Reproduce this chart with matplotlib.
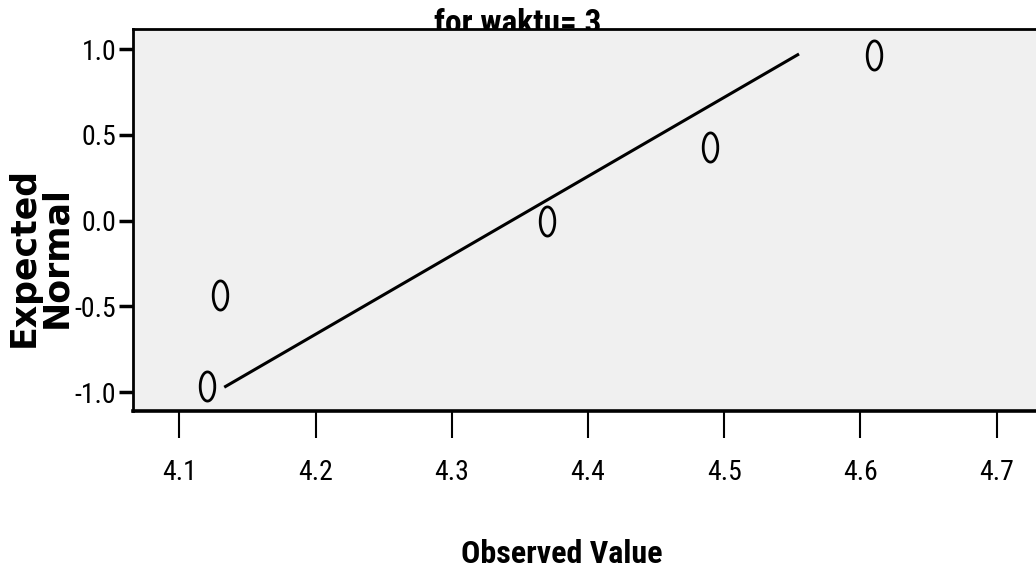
import numpy as np
import matplotlib
matplotlib.use("Agg")
import matplotlib.pyplot as plt
from matplotlib.path import Path

observed = [4.12, 4.13, 4.37, 4.49, 4.61]
expected = [-0.967, -0.431, 0.0, 0.431, 0.967]
xticks = [4.1, 4.2, 4.3, 4.4, 4.5, 4.6, 4.7]
yticks = [-1.0, -0.5, 0.0, 0.5, 1.0]

narrow = ["Roboto Condensed", "DejaVu Sans"]

# reference line: mean + sd * z
mean = np.mean(observed)
sd = np.std(observed, ddof=1)
zline = np.array([min(expected), max(expected)])
xline = mean + sd * zline

t = np.linspace(0, 2 * np.pi, 60)
ellipse = Path(np.column_stack([0.5 * np.cos(t), np.sin(t)]))

fig = plt.figure(figsize=(10.36, 5.75), dpi=100)
ax = fig.add_axes([133 / 1036, 1 - 411 / 575, 1 - 133 / 1036, (411 - 29) / 575])
ax.set_facecolor("#f0f0f0")

ax.plot(xline, zline, color="black", linewidth=2.2, zorder=2)
ax.plot(observed, expected, linestyle="none", marker=ellipse, markersize=21,
        markerfacecolor="none", markeredgecolor="black", markeredgewidth=2, zorder=3)

ax.set_xlim(4.066, 4.729)
ax.set_ylim(-1.11, 1.117)
ax.set_xticks(xticks)
ax.set_xticklabels([f"{v:.1f}" for v in xticks], family=narrow, fontsize=20)
ax.set_yticks(yticks)
ax.set_yticklabels([f"{v:.1f}" for v in yticks], family=narrow, fontsize=20)
ax.tick_params(axis="x", length=19.5, width=1.5, pad=15, direction="out")
ax.tick_params(axis="y", length=10, width=2.5, pad=2, direction="out")

ax.spines["right"].set_visible(False)
ax.spines["top"].set_linewidth(2)
ax.spines["left"].set_linewidth(2)
ax.spines["bottom"].set_linewidth(2.6)

fig.text(0.5, 1 - 33 / 575, "for waktu= 3", ha="center", va="baseline",
         family=narrow, fontweight="bold", fontsize=24, zorder=-1)
fig.text(562 / 1036, 1 - 563 / 575, "Observed Value", ha="center", va="baseline",
         family=narrow, fontweight="bold", fontsize=23)
fig.text(40 / 1036, 1 - 257 / 575, "Expected\nNormal", ha="center", va="center",
         rotation=90, multialignment="center", family="DejaVu Sans",
         fontweight="bold", fontsize=25, linespacing=0.92)

fig.savefig("out.png", dpi=100)
